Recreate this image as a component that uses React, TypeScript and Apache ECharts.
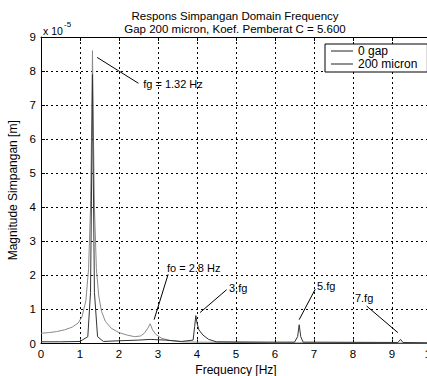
import { useEffect, useRef } from "react";
import * as echarts from "echarts";

const titleLines = ["Respons Simpangan Domain Frequency", "Gap 200 micron, Koef. Pemberat C = 5.600"];
const xAxisName = "Frequency [Hz]";
const yAxisName = "Magnitude Simpangan [m]";
const seriesNames = ["0 gap", "200 micron"];

// "0 gap" (grey line), magnitude in units of 1e-5 m
const zeroGapFreq = [0, 0.2, 0.4, 0.6, 0.8, 0.95, 1.05, 1.15, 1.22, 1.27, 1.3, 1.32, 1.34, 1.37, 1.42, 1.48, 1.55, 1.65, 1.8, 2.0, 2.2, 2.4, 2.55, 2.65, 2.74, 2.8, 2.86, 2.95, 3.1, 3.3, 3.6, 4.0, 5.0, 6.0, 8.0, 10.0];
const zeroGapMag = [0.3, 0.32, 0.35, 0.4, 0.48, 0.6, 0.78, 1.25, 2.2, 4.0, 6.5, 8.6, 6.5, 4.0, 2.2, 1.4, 0.95, 0.65, 0.45, 0.32, 0.25, 0.2, 0.22, 0.3, 0.45, 0.58, 0.4, 0.26, 0.15, 0.09, 0.05, 0.04, 0.03, 0.02, 0.02, 0.01];

// "200 micron" (dark line)
const microFreq = [0, 0.5, 1.0, 1.2, 1.27, 1.3, 1.32, 1.34, 1.37, 1.45, 1.6, 2.0, 2.5, 2.8, 3.2, 3.6, 3.9, 3.94, 3.97, 4.0, 4.05, 4.15, 4.3, 4.5, 5.8, 6.5, 6.58, 6.62, 6.66, 6.72, 9.15, 9.22, 9.28, 10.0];
const microMag = [0.05, 0.05, 0.06, 0.2, 1.5, 5.0, 7.9, 5.0, 1.5, 0.2, 0.06, 0.08, 0.1, 0.12, 0.1, 0.06, 0.1, 0.5, 0.82, 0.6, 0.4, 0.25, 0.12, 0.05, 0.04, 0.04, 0.2, 0.55, 0.2, 0.04, 0.03, 0.12, 0.03, 0.02];

// annotations: text, text anchor, arrow tail, arrow head (data coords)
const annotationTexts = ["fg = 1.32 Hz", "fo = 2.8 Hz", "3.fg", "5.fg", "7.fg"];
const annotationAnchors = [[2.62, 7.61], [3.23, 2.23], [4.82, 1.64], [7.08, 1.68], [8.05, 1.35]];
const arrowTails = [[2.5, 7.64], [3.26, 2.03], [4.76, 1.58], [7.03, 1.59], [8.35, 1.1]];
const arrowHeads = [[1.44, 8.4], [2.9, 0.7], [4.08, 0.91], [6.62, 0.7], [9.15, 0.32]];

const FONT = "Liberation Sans, Arial, sans-serif";

export default function App() {
  const ref = useRef<HTMLDivElement>(null);
  useEffect(() => {
    if (!ref.current) return;
    const chart = echarts.init(ref.current, null, { renderer: "svg" });
    const splitStyle = { color: "#000", type: [2, 3] as number[], width: 1 };
    chart.setOption({
      animation: false,
      backgroundColor: "#fff",
      textStyle: { fontFamily: FONT },
      grid: { left: 41, top: 37, right: -4, bottom: 32.5, containLabel: false, outerBoundsMode: "none" },
      legend: {
        left: 325,
        top: 44,
        orient: "vertical",
        backgroundColor: "#fff",
        borderColor: "#000",
        borderWidth: 1,
        borderRadius: 0,
        padding: [1, 10, 2, 6],
        itemGap: 1,
        itemWidth: 22,
        itemHeight: 1,
        icon: "rect",
        textStyle: { fontSize: 12, color: "#000", fontFamily: FONT },
        data: seriesNames.map((n) => ({ name: n, itemStyle: { color: "#222" } })),
      },
      xAxis: [
        {
          type: "value",
          min: 0,
          max: 10,
          interval: 1,
          name: xAxisName,
          nameLocation: "middle",
          nameGap: 19,
          nameTextStyle: { fontSize: 12, color: "#000", fontFamily: FONT },
          axisLine: { show: true, onZero: false, lineStyle: { color: "#000" } },
          axisTick: { show: true, inside: true, length: 4, lineStyle: { color: "#000" } },
          axisLabel: { color: "#000", fontSize: 11.5, margin: 4, fontFamily: FONT },
          splitLine: { show: true, lineStyle: splitStyle },
        },
        {
          type: "value",
          position: "top",
          min: 0,
          max: 10,
          interval: 1,
          axisLine: { show: true, onZero: false, lineStyle: { color: "#000" } },
          axisTick: { show: true, inside: true, length: 4, lineStyle: { color: "#000" } },
          axisLabel: { show: false },
          splitLine: { show: false },
        },
      ],
      yAxis: {
        type: "value",
        min: 0,
        max: 9,
        interval: 1,
        name: yAxisName,
        nameLocation: "middle",
        nameRotate: 90,
        nameGap: 22,
        nameTextStyle: { fontSize: 12, color: "#000", fontFamily: FONT },
        axisLine: { show: true, onZero: false, lineStyle: { color: "#000" } },
        axisTick: { show: true, inside: true, length: 4, lineStyle: { color: "#000" } },
        axisLabel: { color: "#000", fontSize: 11.5, margin: 5, fontFamily: FONT },
        splitLine: { show: true, lineStyle: splitStyle },
      },
      graphic: [
        {
          type: "text",
          x: 235,
          y: 16,
          style: { text: titleLines[0], fontSize: 11.5, fontFamily: FONT, fill: "#000", textAlign: "center", textVerticalAlign: "middle" },
        },
        {
          type: "text",
          x: 235,
          y: 29,
          style: { text: titleLines[1], fontSize: 11.5, fontFamily: FONT, fill: "#000", textAlign: "center", textVerticalAlign: "middle" },
        },
        {
          type: "text",
          x: 43,
          y: 31,
          style: { text: "x 10", fontSize: 10.5, fontFamily: FONT, fill: "#000", textAlign: "left", textVerticalAlign: "middle" },
        },
        {
          type: "text",
          x: 64,
          y: 24,
          style: { text: "-5", fontSize: 8, fontFamily: FONT, fill: "#000", textAlign: "left", textVerticalAlign: "middle" },
        },
      ],
      series: [
        {
          name: seriesNames[0],
          type: "line",
          data: zeroGapFreq.map((f, i) => [f, zeroGapMag[i]]),
          showSymbol: false,
          symbol: "none",
          color: "#8a8a8a",
          lineStyle: { width: 1, color: "#8a8a8a" },
          z: 2,
          markLine: {
            silent: true,
            symbol: ["none", "arrow"],
            symbolSize: [0, 8],
            lineStyle: { color: "#000", width: 1, type: "solid" },
            label: { show: false },
            data: arrowTails.map((t, i) => [{ coord: t }, { coord: arrowHeads[i] }]),
          },
          markPoint: {
            silent: true,
            symbol: "rect",
            symbolSize: 0,
            label: {
              show: true,
              position: [0, 0],
              align: "left",
              verticalAlign: "middle",
              color: "#000",
              fontSize: 11,
              fontFamily: FONT,
              formatter: (p: any) => p.name,
            },
            data: annotationTexts.map((t, i) => ({ name: t, coord: annotationAnchors[i] })),
          },
        },
        {
          name: seriesNames[1],
          type: "line",
          data: microFreq.map((f, i) => [f, microMag[i]]),
          showSymbol: false,
          symbol: "none",
          color: "#333",
          lineStyle: { width: 1, color: "#333" },
          z: 3,
        },
      ],
    });
    return () => chart.dispose();
  }, []);
  return <div ref={ref} style={{ position: "absolute", left: 0, top: 0, width: 427, height: 376 }} />;
}
